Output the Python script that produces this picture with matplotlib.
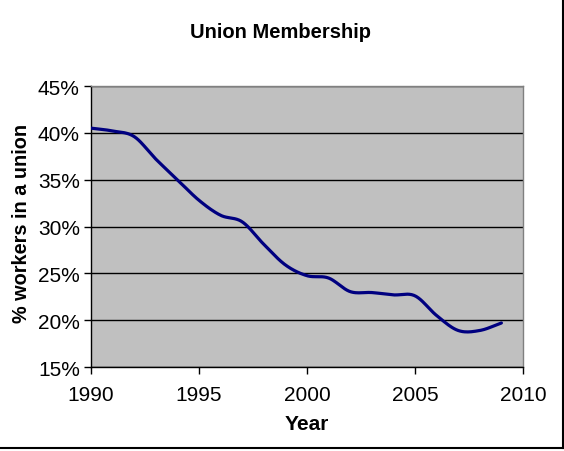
import numpy as np
import matplotlib
matplotlib.use('Agg')
from matplotlib import pyplot as plt
from matplotlib.lines import Line2D

years = [1990, 1991, 1992, 1993, 1994, 1995, 1996, 1997, 1998, 1999,
         2000, 2001, 2002, 2003, 2004, 2005, 2006, 2007, 2008, 2009]
members = [40.5, 40.2, 39.6, 37.2, 35.0, 32.8, 31.2, 30.5, 28.1, 25.9,
           24.75, 24.5, 23.05, 22.95, 22.7, 22.6, 20.5, 18.9, 18.9, 19.7]
yticks = [15, 20, 25, 30, 35, 40, 45]
xticks = [1990, 1995, 2000, 2005, 2010]


def smooth(x, y, n=20):
    """ catmull-rom curve through the points, like excel's smoothed line """
    x = np.asarray(x, float)
    y = np.asarray(y, float)
    px = np.concatenate([[2*x[0]-x[1]], x, [2*x[-1]-x[-2]]])
    py = np.concatenate([[2*y[0]-y[1]], y, [2*y[-1]-y[-2]]])
    t = np.linspace(0, 1, n, endpoint=False)
    xs, ys = [], []
    for i in range(1, len(px)-2):
        for p, out in ((px, xs), (py, ys)):
            p0, p1, p2, p3 = p[i-1], p[i], p[i+1], p[i+2]
            out.extend(0.5*((2*p1) + (-p0+p2)*t + (2*p0-5*p1+4*p2-p3)*t**2
                            + (-p0+3*p1-3*p2+p3)*t**3))
    xs.append(x[-1])
    ys.append(y[-1])
    return np.array(xs), np.array(ys)


plt.rcParams['font.family'] = ['Liberation Sans', 'DejaVu Sans']

fig = plt.figure(figsize=(5.64, 4.52), dpi=100)
ax = fig.add_axes([0.1613, 0.1858, 0.766, 0.6217])
ax.set_facecolor('#C0C0C0')

sx, sy = smooth(years, members)
ax.plot(sx, sy, c='#000080', lw=2.3, solid_capstyle='round', zorder=3)

ax.set_xlim(1990, 2010)
ax.set_ylim(15, 45)
ax.set_xticks(xticks)
ax.set_yticks(yticks)
ax.set_yticklabels([str(v) + '%' for v in yticks])
ax.yaxis.grid(True, color='black', lw=1)
ax.set_axisbelow(True)
ax.tick_params(direction='out', length=5, width=1, labelsize=15, color='black')
ax.tick_params(axis='x', pad=8)
ax.tick_params(axis='y', pad=3)

for s in ['top', 'right']:
    ax.spines[s].set_color('#808080')
for s in ['left', 'bottom']:
    ax.spines[s].set_color('black')
for s in ax.spines.values():
    s.set_linewidth(1)

ax.set_xlabel('Year', fontsize=15, fontweight='bold', labelpad=7)
ax.set_ylabel('% workers in a union', fontsize=14.3, fontweight='bold')
ax.yaxis.set_label_coords(-0.138, 0.514)
fig.text(0.498, 0.927, 'Union Membership', ha='center', va='center',
         fontsize=14.5, fontweight='bold')

# chart frame edges
fig.add_artist(Line2D([0.998, 0.998], [0.006, 1], transform=fig.transFigure, c='black', lw=1.5))
fig.add_artist(Line2D([0, 0.998], [0.006, 0.006], transform=fig.transFigure, c='black', lw=1.5))

plt.savefig('out.png', dpi=100)
